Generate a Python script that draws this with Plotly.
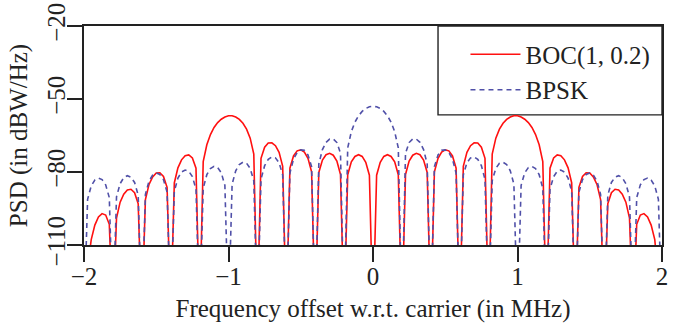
import plotly.graph_objects as go

# Frequency grid (MHz), step 0.025 from -2 to 2
freq_mhz = [round(-2 + 0.025 * i, 3) for i in range(161)]

# PSD values (dBW/Hz), right half f = 0 .. 2 MHz.
# Values of -140 mark the deep nulls that fall below the axis floor.
boc_right = [
    -140.0, -81.3, -76.0, -73.6, -72.9, -73.6, -75.8, -81.1,
    -140.0, -81.0, -75.5, -73.1, -72.3, -72.9, -75.1, -80.2,
    -140.0, -79.9, -74.4, -71.8, -70.9, -71.3, -73.4, -78.4,
    -140.0, -77.7, -71.9, -69.2, -68.0, -68.1, -69.8, -74.4,
    -140.0, -72.6, -66.1, -62.4, -60.0, -58.4, -57.4, -56.9,
    -56.9, -57.4, -58.3, -59.7, -61.7, -64.6, -68.8, -75.7,
    -140.0, -78.4, -74.2, -73.0, -73.3, -75.0, -78.3, -84.5,
    -140.0, -86.3, -81.8, -80.3, -80.4, -82.0, -85.1, -91.3,
    -140.0, -93.0, -88.5, -87.1, -87.4, -89.1, -92.4, -98.9,
    -140.0, -101.5, -97.7, -97.1, -98.5, -101.8, -107.8, -119.3,
    -140.0,
]
bpsk_right = [
    -53.0, -53.2, -53.9, -55.1, -56.9, -59.5, -63.4, -70.1,
    -140.0, -72.3, -67.9, -66.4, -66.5, -67.8, -70.8, -76.7,
    -140.0, -77.8, -73.0, -71.1, -70.9, -72.0, -74.7, -80.4,
    -140.0, -81.2, -76.2, -74.2, -73.8, -74.8, -77.4, -83.0,
    -140.0, -83.6, -78.5, -76.4, -76.0, -76.9, -79.5, -85.0,
    -140.0, -85.5, -80.3, -78.2, -77.7, -78.6, -81.1, -86.7,
    -140.0, -87.0, -81.9, -79.7, -79.2, -80.0, -82.5, -88.0,
    -140.0, -88.3, -83.1, -81.0, -80.4, -81.3, -83.7, -89.2,
    -140.0, -89.5, -84.3, -82.1, -81.5, -82.3, -84.8, -90.2,
    -140.0, -90.5, -85.3, -83.1, -82.5, -83.3, -85.7, -91.2,
    -140.0,
]
# both spectra are symmetric about the carrier
boc_psd = boc_right[:0:-1] + boc_right
bpsk_psd = bpsk_right[:0:-1] + bpsk_right

x_ticks = [-2, -1, 0, 1, 2]
y_ticks = [-110, -80, -50, -20]
series_names = ["BOC(1, 0.2)", "BPSK"]

FONT = "Liberation Serif, Times New Roman, serif"
FS = 25
TXT = "#222"

fig = go.Figure()
fig.add_trace(go.Scatter(x=freq_mhz, y=boc_psd, mode="lines", name=series_names[0],
                         line=dict(color="#ff1010", width=1.6)))
fig.add_trace(go.Scatter(x=freq_mhz, y=bpsk_psd, mode="lines", name=series_names[1],
                         line=dict(color="#5050a8", width=1.6, dash="5px,4px")))

fig.update_layout(
    width=683, height=324,
    margin=dict(l=84, r=21, t=26, b=79),
    paper_bgcolor="white", plot_bgcolor="white",
    font=dict(family=FONT, size=FS, color=TXT),
    showlegend=True,
    legend=dict(x=0.66, y=0.975, xanchor="left", yanchor="top",
                bgcolor="rgba(0,0,0,0)", borderwidth=0,
                font=dict(family=FONT, size=FS, color=TXT),
                itemwidth=50, tracegroupgap=0),
    shapes=[dict(type="rect", xref="paper", yref="paper",
                 x0=0.6125, x1=1.0, y0=0.594, y1=1.0,
                 line=dict(color=TXT, width=1.4), fillcolor="white", layer="below")],
)
fig.update_xaxes(range=[-2, 2], tickvals=x_ticks, ticks="outside", ticklen=15, tickwidth=1.5,
                 tickcolor=TXT, showline=True, linecolor=TXT, linewidth=1.6, mirror=True,
                 showgrid=False, zeroline=False, automargin=False, ticklabelstandoff=-7,
                 ticklabeloverflow="allow",
                 tickfont=dict(family=FONT, size=FS, color=TXT),
                 title=dict(text="Frequency offset w.r.t. carrier (in MHz)", standoff=11,
                            font=dict(family=FONT, size=FS, color=TXT)))
fig.update_yaxes(range=[-110, -20], tickvals=y_ticks, ticks="outside", ticklen=15, tickwidth=1.5,
                 tickcolor=TXT, showline=True, linecolor=TXT, linewidth=1.6, mirror=True,
                 showgrid=False, zeroline=False, tickangle=-90, automargin=False,
                 ticklabelstandoff=-8, ticklabeloverflow="allow",
                 tickfont=dict(family=FONT, size=FS, color=TXT),
                 title=dict(text="PSD (in dBW/Hz)", standoff=8,
                            font=dict(family=FONT, size=FS, color=TXT)))

# remove the page's default body margin so the figure fills the window exactly
fig.write_html("out.html", config={"displayModeBar": False},
               post_script="document.body.style.margin='0px';")
